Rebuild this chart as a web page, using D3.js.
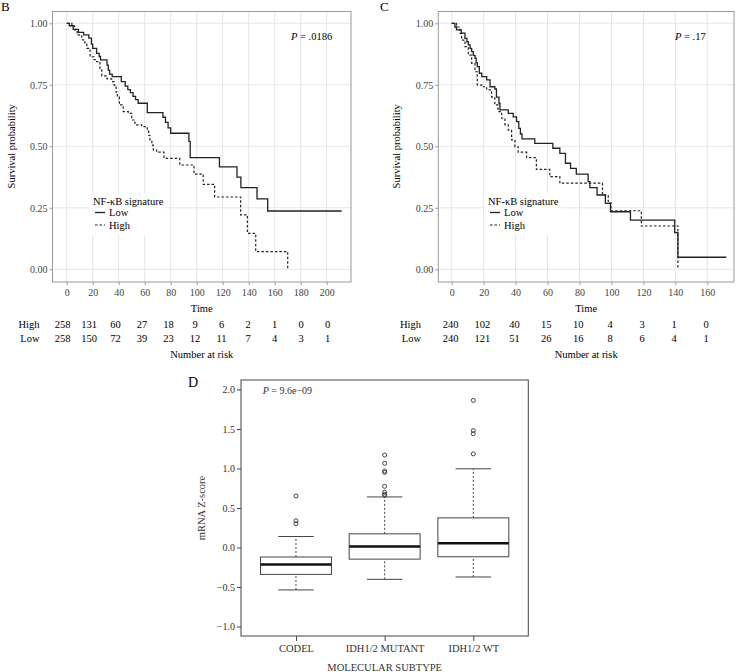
<!DOCTYPE html>
<html><head><meta charset="utf-8">
<script src="https://cdn.jsdelivr.net/npm/d3@7"></script>
<style>
html,body{margin:0;padding:0;background:#fff;}
svg text{font-family:"Liberation Serif","Times New Roman",serif;}
</style></head>
<body>
<svg id="chart" width="742" height="672"></svg>
<script>
// ---------- DATA ----------
// Panel B (Kaplan-Meier)
const bLowTime  = [0,2,5,9,13,17,19,20,23,25,26,31,32,33,35,42,45,47,49,51,53,55,62,74,76,78,80,94,95,117.5,131,134,146.4,154.6,211.5];
const bLowSurv  = [1,0.99,0.975,0.963,0.953,0.94,0.915,0.898,0.878,0.865,0.851,0.83,0.81,0.793,0.783,0.763,0.745,0.73,0.718,0.703,0.69,0.675,0.637,0.618,0.597,0.575,0.553,0.52,0.454,0.416,0.375,0.332,0.286,0.237,0.237];
const bHighTime = [0,4,6,8,11.5,14,15.5,18,21,23,25.6,27,31,34.6,36.4,38,39,40.5,43.5,47.4,50,52.5,57.7,62,63,64,65.5,66.6,69.2,74.8,87,97.9,105,113.8,133.8,139,145.4,170];
const bHighSurv = [1,0.99,0.973,0.953,0.933,0.915,0.898,0.864,0.852,0.844,0.81,0.786,0.774,0.763,0.749,0.72,0.7,0.668,0.641,0.634,0.607,0.587,0.58,0.566,0.545,0.526,0.505,0.485,0.476,0.451,0.424,0.387,0.345,0.294,0.221,0.146,0.072,0];
const bTicks = [0,20,40,60,80,100,120,140,160,180,200];
const bRiskHigh = [258,131,60,27,18,9,6,2,1,0,0];
const bRiskLow  = [258,150,72,39,23,12,11,7,4,3,1];
const bPval = ".0186";

// Panel C (Kaplan-Meier)
const cLowTime  = [0,2,3,6,8.3,9.5,10.4,11.5,12.5,13.5,14.6,15.3,16,17.3,18.8,21.9,24,27,28,29.6,30.2,35.4,38.5,40.6,42,43,44,52,63.3,67.7,71.2,74.4,78,85.4,86.5,91,96.2,99.4,111.9,139.6,141.6,171.9];
const cLowSurv  = [1,0.985,0.973,0.96,0.939,0.925,0.912,0.898,0.885,0.87,0.858,0.84,0.824,0.797,0.783,0.77,0.742,0.733,0.7,0.675,0.648,0.634,0.62,0.6,0.573,0.55,0.53,0.512,0.492,0.471,0.431,0.41,0.387,0.356,0.332,0.302,0.268,0.234,0.2,0.149,0.049,0.049];
const cHighTime = [0,3,5.2,6.2,8.3,10.4,12.5,14.6,16,18.8,21.9,25,27,29,31.3,33.3,35.4,37.5,39.6,41.6,46.9,53,61.4,67.7,94.4,98,99.7,118.7,141.6];
const cHighSurv = [1,0.985,0.959,0.932,0.905,0.871,0.837,0.803,0.749,0.742,0.729,0.7,0.668,0.641,0.614,0.587,0.566,0.526,0.498,0.476,0.454,0.406,0.377,0.35,0.302,0.27,0.238,0.176,0];
const cTicks = [0,20,40,60,80,100,120,140,160];
const cRiskHigh = [240,102,40,15,10,4,3,1,0];
const cRiskLow  = [240,121,51,26,16,8,6,4,1];
const cPval = ".17";

const survTicks = [0,0.25,0.5,0.75,1];

// Panel D (boxplot)
const subtypes = ["CODEL","IDH1/2 MUTANT","IDH1/2 WT"];
const whiskerLow  = [-0.537,-0.403,-0.373];
const quart1      = [-0.34,-0.147,-0.117];
const medians     = [-0.214,0.013,0.055];
const quart3      = [-0.12,0.173,0.375];
const whiskerHigh = [0.139,0.64,0.996];
const outCodel  = [0.652,0.34,0.30];
const outMutant = [0.66,0.673,0.70,0.774,0.95,0.967,1.065,1.17];
const outWT     = [1.185,1.44,1.48,1.862];
const zTicks = [-1,-0.5,0,0.5,1,1.5,2];
const dPval = "9.6e\u221209";

// ---------- DRAW ----------
const svg = d3.select("#chart");
const serif = '"Liberation Serif","Times New Roman",serif';

function kmPanel(o){
  const g = svg.append("g");
  const x = d3.scaleLinear().domain([0, o.ticks[o.ticks.length-1]]).range(o.xr);
  const y = d3.scaleLinear().domain([0,1]).range([269.3,23.3]);
  g.selectAll(".vg").data(o.ticks).enter().append("line")
    .attr("x1",d=>x(d)).attr("x2",d=>x(d)).attr("y1",o.top).attr("y2",o.bottom)
    .attr("stroke","#e6e6e6").attr("stroke-width",1);
  g.selectAll(".hg").data(survTicks).enter().append("line")
    .attr("x1",o.left).attr("x2",o.right).attr("y1",d=>y(d)).attr("y2",d=>y(d))
    .attr("stroke","#e6e6e6").attr("stroke-width",1);
  g.append("rect").attr("x",o.legX-3).attr("y",193).attr("width",76).attr("height",42).attr("fill","#fff");
  const line = d3.line().x(d=>x(d[0])).y(d=>y(d[1])).curve(d3.curveStepAfter);
  const low = o.lowT.map((t,i)=>[t,o.lowS[i]]);
  const high = o.highT.map((t,i)=>[t,o.highS[i]]);
  g.append("path").attr("d",line(high)).attr("fill","none").attr("stroke","#222").attr("stroke-width",1.2).attr("stroke-dasharray","2.5,2");
  g.append("path").attr("d",line(low)).attr("fill","none").attr("stroke","#222").attr("stroke-width",1.3);
  g.append("rect").attr("x",o.left).attr("y",o.top).attr("width",o.right-o.left).attr("height",o.bottom-o.top)
    .attr("fill","none").attr("stroke","#9a9a9a").attr("stroke-width",1);
  const ya = d3.axisLeft(y).tickValues(survTicks).tickFormat(d3.format(".2f")).tickSize(3).tickPadding(2);
  const yg = g.append("g").attr("transform",`translate(${o.left},0)`).call(ya);
  yg.select(".domain").remove();
  yg.selectAll("line").attr("stroke","#9a9a9a");
  yg.selectAll("text").attr("font-family",serif).attr("font-size",10).attr("fill","#444");
  const xa = d3.axisBottom(x).tickValues(o.ticks).tickSize(3).tickPadding(4);
  const xg = g.append("g").attr("transform",`translate(0,${o.bottom})`).call(xa);
  xg.select(".domain").remove();
  xg.selectAll("line").attr("stroke","#9a9a9a");
  xg.selectAll("text").attr("font-family",serif).attr("font-size",10).attr("fill","#444");
  const cx = (o.left+o.right)/2;
  g.append("text").attr("x",cx).attr("y",312).attr("text-anchor","middle").attr("font-size",10.5).text("Time");
  g.append("text").attr("transform",`translate(${o.ytx},146.3) rotate(-90)`).attr("text-anchor","middle").attr("font-size",10.5).text("Survival probability");
  const pt = g.append("text").attr("x",o.pX).attr("y",40).attr("font-size",10.5);
  pt.append("tspan").attr("font-style","italic").text("P");
  pt.append("tspan").text(" = " + o.p);
  g.append("text").attr("x",o.legX).attr("y",204.5).attr("font-size",10.5).text("NF-\u03BAB signature");
  g.append("line").attr("x1",o.legX+2).attr("x2",o.legX+12).attr("y1",212.5).attr("y2",212.5).attr("stroke","#222").attr("stroke-width",1.3);
  g.append("line").attr("x1",o.legX+2).attr("x2",o.legX+12).attr("y1",225).attr("y2",225).attr("stroke","#222").attr("stroke-width",1.2).attr("stroke-dasharray","2.5,2");
  g.append("text").attr("x",o.legX+16).attr("y",216).attr("font-size",10.5).text("Low");
  g.append("text").attr("x",o.legX+16).attr("y",228.5).attr("font-size",10.5).text("High");
  g.append("text").attr("x",o.letterX).attr("y",11).attr("font-size",13).text(o.letter);
  const xt = d3.scaleLinear().domain(x.domain()).range(o.xtr);
  g.selectAll(".rh").data(o.riskHigh).enter().append("text")
    .attr("x",(d,i)=>xt(o.ticks[i])).attr("y",328).attr("text-anchor","middle").attr("font-size",10.5).text(d=>d);
  g.selectAll(".rl").data(o.riskLow).enter().append("text")
    .attr("x",(d,i)=>xt(o.ticks[i])).attr("y",342).attr("text-anchor","middle").attr("font-size",10.5).text(d=>d);
  g.append("text").attr("x",o.rowX).attr("y",328).attr("text-anchor","end").attr("font-size",10.5).text("High");
  g.append("text").attr("x",o.rowX).attr("y",342).attr("text-anchor","end").attr("font-size",10.5).text("Low");
  g.append("text").attr("x",cx).attr("y",357.5).attr("text-anchor","middle").attr("font-size",10.5).text("Number at risk");
}

kmPanel({letter:"B",letterX:1,left:52.5,right:351,top:11.5,bottom:282,xr:[66.7,326.7],xtr:[62.5,327.5],
  ticks:bTicks,lowT:bLowTime,lowS:bLowSurv,highT:bHighTime,highS:bHighSurv,riskHigh:bRiskHigh,riskLow:bRiskLow,
  p:bPval,pX:291,legX:93,ytx:15,rowX:39.5});
kmPanel({letter:"C",letterX:380,left:438.3,right:734,top:11.5,bottom:282,xr:[451.7,707.3],xtr:[450.5,706],
  ticks:cTicks,lowT:cLowTime,lowS:cLowSurv,highT:cHighTime,highS:cHighSurv,riskHigh:cRiskHigh,riskLow:cRiskLow,
  p:cPval,pX:675,legX:488,ytx:400,rowX:421});

// ---------- Panel D ----------
(function(){
  const g = svg.append("g");
  const L=241, R=528.3, T=380, B=636;
  const x = d3.scaleLinear().domain([0.38,3.62]).range([L,R]);
  const y = d3.scaleLinear().domain([-1.12,2.12]).range([B,T]);
  const bw = 0.8*(x(1)-x(0));
  const outs = [outCodel,outMutant,outWT];
  const col = "#444";
  subtypes.forEach((s,i)=>{
    const cx = x(i+1);
    [[whiskerLow[i],quart1[i]],[quart3[i],whiskerHigh[i]]].forEach(w=>{
      g.append("line").attr("x1",cx).attr("x2",cx).attr("y1",y(w[0])).attr("y2",y(w[1]))
        .attr("stroke",col).attr("stroke-width",1).attr("stroke-dasharray","2,2");
    });
    [whiskerLow[i],whiskerHigh[i]].forEach(v=>{
      g.append("line").attr("x1",cx-bw/4).attr("x2",cx+bw/4).attr("y1",y(v)).attr("y2",y(v))
        .attr("stroke",col).attr("stroke-width",1);
    });
    g.append("rect").attr("x",cx-bw/2).attr("y",y(quart3[i])).attr("width",bw).attr("height",y(quart1[i])-y(quart3[i]))
      .attr("fill","#fff").attr("stroke",col).attr("stroke-width",1);
    g.append("line").attr("x1",cx-bw/2).attr("x2",cx+bw/2).attr("y1",y(medians[i])).attr("y2",y(medians[i]))
      .attr("stroke","#111").attr("stroke-width",2.5);
    g.selectAll(null).data(outs[i]).enter().append("circle")
      .attr("cx",cx).attr("cy",d=>y(d)).attr("r",2).attr("fill","none").attr("stroke",col).attr("stroke-width",1);
  });
  g.append("rect").attr("x",L).attr("y",T).attr("width",R-L).attr("height",B-T).attr("fill","none").attr("stroke",col).attr("stroke-width",1);
  const ya = d3.axisLeft(y).tickValues(zTicks).tickFormat(d=>d3.format(".1f")(d).replace("-","\u2212")).tickSize(4).tickPadding(2);
  const yg = g.append("g").attr("transform",`translate(${L},0)`).call(ya);
  yg.select(".domain").remove();
  yg.selectAll("line").attr("stroke",col);
  yg.selectAll("text").attr("font-family",serif).attr("font-size",10).attr("fill","#333");
  const xa = d3.axisBottom(x).tickValues([1,2,3]).tickFormat((d,i)=>subtypes[i]).tickSize(5).tickPadding(4);
  const xg = g.append("g").attr("transform",`translate(0,${B})`).call(xa);
  xg.select(".domain").remove();
  xg.selectAll("line").attr("stroke",col);
  xg.selectAll("text").attr("font-family",serif).attr("font-size",10.5).attr("fill","#333");
  g.append("text").attr("x",(L+R)/2).attr("y",671).attr("text-anchor","middle").attr("font-size",10.5).attr("fill","#333").text("MOLECULAR SUBTYPE");
  g.append("text").attr("transform",`translate(205,${(T+B)/2}) rotate(-90)`).attr("text-anchor","middle").attr("font-size",10.5).attr("fill","#333").text("mRNA Z-score");
  const pt = g.append("text").attr("x",262.7).attr("y",393.5).attr("font-size",10).attr("fill","#333");
  pt.append("tspan").attr("font-style","italic").text("P");
  pt.append("tspan").text(" = " + dPval);
  g.append("text").attr("x",188).attr("y",387).attr("font-size",14).text("D");
})();
</script>
</body></html>
